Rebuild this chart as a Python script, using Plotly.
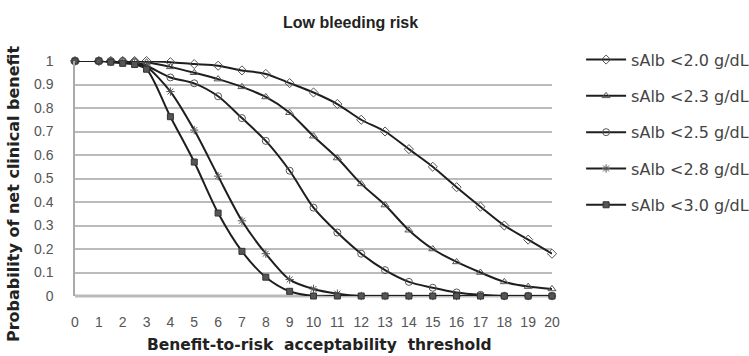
import plotly.graph_objects as go

x_vals = [0, 1, 1.5, 2, 2.5, 3, 4, 5, 6, 7, 8, 9, 10, 11, 12, 13, 14, 15, 16, 17, 18, 19, 20]
series_names = ["sAlb <2.0 g/dL", "sAlb <2.3 g/dL", "sAlb <2.5 g/dL", "sAlb <2.8 g/dL", "sAlb <3.0 g/dL"]
salb_20 = [1, 1, 1, 1, 1, 1, 0.995, 0.987, 0.98, 0.96, 0.945, 0.906, 0.866, 0.817, 0.75, 0.70, 0.625, 0.55, 0.463, 0.38, 0.30, 0.24, 0.18]
salb_23 = [1, 1, 1, 1, 1, 0.995, 0.975, 0.95, 0.923, 0.89, 0.847, 0.78, 0.68, 0.587, 0.477, 0.387, 0.28, 0.20, 0.145, 0.10, 0.06, 0.04, 0.03]
salb_25 = [1, 1, 1, 1, 0.995, 0.98, 0.93, 0.905, 0.85, 0.757, 0.66, 0.533, 0.376, 0.27, 0.18, 0.11, 0.06, 0.035, 0.015, 0.005, 0, 0, 0]
salb_28 = [1, 1, 1, 0.995, 0.99, 0.975, 0.87, 0.706, 0.51, 0.32, 0.18, 0.07, 0.03, 0.01, 0, 0, 0, 0, 0, 0, 0, 0, 0]
salb_30 = [1, 1, 0.995, 0.99, 0.985, 0.965, 0.763, 0.57, 0.353, 0.19, 0.08, 0.02, 0, 0, 0, 0, 0, 0, 0, 0, 0, 0, 0]
y_ticks = [0, 0.1, 0.2, 0.3, 0.4, 0.5, 0.6, 0.7, 0.8, 0.9, 1]
y_tick_labels = ["0", "0.1", "0.2", "0.3", "0.4", "0.5", "0.6", "0.7", "0.8", "0.9", "1"]
x_ticks = list(range(0, 21))
title_text = "Low bleeding risk"
x_title = "Benefit-to-risk  acceptability  threshold"
y_title = "Probability of net clinical benefit"

all_series = [salb_20, salb_23, salb_25, salb_28, salb_30]
symbols = ["diamond-open", "triangle-up-open", "circle-open", "asterisk-open", "square"]
sizes = [7, 7, 7, 7, 6]

fig = go.Figure()
for i, (name, ys) in enumerate(zip(series_names, all_series)):
    fig.add_trace(go.Scatter(
        x=x_vals, y=ys, name=name, mode="lines+markers",
        line=dict(color="#1e1e1e", width=2, shape="spline", smoothing=0.8),
        marker=dict(symbol=symbols[i], size=sizes[i], color="#555555",
                    line=dict(color="#333333", width=1)),
        legendgroup=f"g{i}", cliponaxis=False,
    ))

sans = "Liberation Sans, Arial, sans-serif"
wide = "DejaVu Sans, sans-serif"
fig.update_layout(
    width=749, height=356,
    margin=dict(l=75, r=197, t=61, b=60, autoexpand=False),
    paper_bgcolor="white", plot_bgcolor="white",
    font=dict(family=sans, color="#333333", size=14),
    showlegend=True,
    legend=dict(x=1.061, xanchor="left", y=1.078, yanchor="top", traceorder="grouped",
                tracegroupgap=12.5, font=dict(size=16, color="#444444", family=wide),
                bgcolor="rgba(0,0,0,0)", itemwidth=40, maxheight=500),
    xaxis=dict(range=[0, 20], tickmode="array", tickvals=x_ticks,
               ticktext=[str(v) for v in x_ticks], showgrid=False, zeroline=False,
               showline=False, ticks="", ticklabelstandoff=16, automargin=False,
               tickfont=dict(size=14, color="#555555")),
    yaxis=dict(range=[0, 1], tickmode="array", tickvals=y_ticks, ticktext=y_tick_labels,
               showgrid=True, gridcolor="#bbbbbb", gridwidth=1.5, zeroline=False,
               showline=True, linecolor="#aaaaaa", linewidth=1.5, ticks="",
               ticklabelstandoff=17, automargin=False,
               tickfont=dict(size=14, color="#555555")),
    annotations=[
        dict(text=f"<b>{title_text}</b>", xref="paper", yref="paper",
             x=(350 - 75) / 477, y=1 + (61 - 22) / 235, xanchor="center", yanchor="middle",
             showarrow=False, font=dict(size=16, color="#222222", family=sans)),
        dict(text=f"<b>{x_title}</b>", xref="paper", yref="paper",
             x=(319 - 75) / 477, y=-(345 - 296) / 235, xanchor="center", yanchor="middle",
             showarrow=False, font=dict(size=15.5, color="#222222", family=wide)),
        dict(text=f"<b>{y_title}</b>", xref="paper", yref="paper", textangle=-90,
             x=(13 - 75) / 477, y=(296 - 194) / 235, xanchor="center", yanchor="middle",
             showarrow=False, font=dict(size=16, color="#222222", family=wide)),
    ],
)
fig.add_shape(type="line", xref="paper", yref="paper", x0=0, x1=1, y0=0, y1=0,
              line=dict(color="#bbbbbb", width=3), layer="below")

fig.write_html("out.html", config={"displayModeBar": False},
               post_script="document.body.style.margin='0';")
